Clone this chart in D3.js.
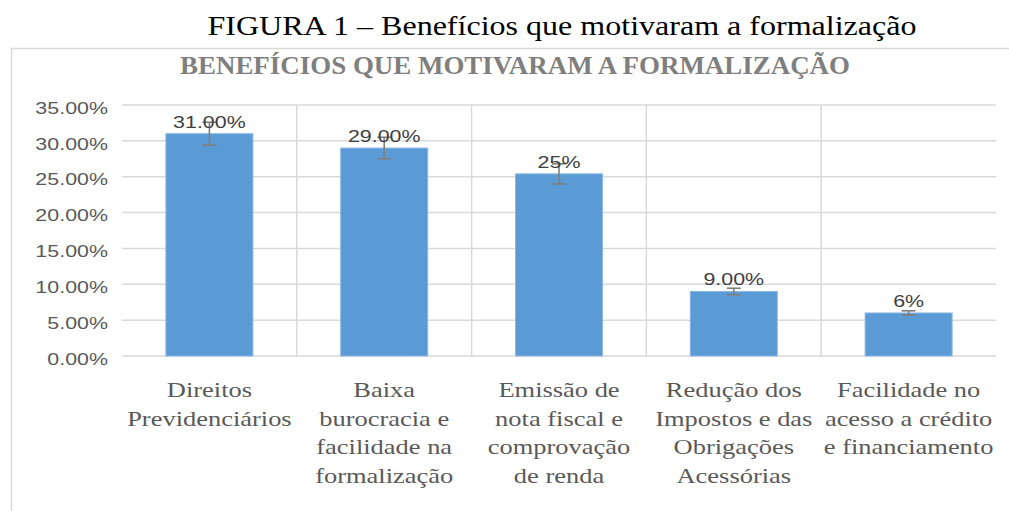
<!DOCTYPE html>
<html>
<head>
<meta charset="utf-8">
<script src="https://cdn.jsdelivr.net/npm/d3@7"></script>
<style>
  body { margin: 0; background: #fff; }
  svg { display: block; }
</style>
</head>
<body>
<div class="chart"></div>
<script>
// chart data
var categories = [
  ["Direitos", "Previdenciários"],
  ["Baixa", "burocracia e", "facilidade na", "formalização"],
  ["Emissão de", "nota fiscal e", "comprovação", "de renda"],
  ["Redução dos", "Impostos e das", "Obrigações", "Acessórias"],
  ["Facilidade no", "acesso a crédito", "e financiamento"]
];
var values = [31, 29, 25.4, 9, 6];
var valueLabels = ["31.00%", "29.00%", "25%", "9.00%", "6%"];
var errors = [1.6, 1.5, 1.4, 0.45, 0.3];
var yTicks = [0, 5, 10, 15, 20, 25, 30, 35];

var svgWidth = 1009, svgHeight = 511;
var margin = { top: 105, left: 122, right: 13, bottom: 155 };
var width = svgWidth - margin.left - margin.right;
var height = svgHeight - margin.top - margin.bottom;
var stretch = 1.26; // text in the picture is drawn wide

var svg = d3.select(".chart").append("svg")
  .attr("width", svgWidth)
  .attr("height", svgHeight);

// caption above the chart
svg.append("text")
  .attr("x", 562).attr("y", 35)
  .attr("text-anchor", "middle")
  .attr("font-family", "Liberation Serif")
  .attr("font-size", 27)
  .attr("textLength", 709)
  .attr("lengthAdjust", "spacingAndGlyphs")
  .attr("fill", "#000")
  .text("FIGURA 1 – Benefícios que motivaram a formalização");

// chart area border (left and top only visible)
svg.append("path")
  .attr("d", "M11.5,511 V48.5 H1009")
  .attr("fill", "none")
  .attr("stroke", "#d9d9d9")
  .attr("stroke-width", 1.5);

svg.append("text")
  .attr("x", 515).attr("y", 74)
  .attr("text-anchor", "middle")
  .attr("font-family", "Liberation Serif")
  .attr("font-weight", "bold")
  .attr("font-size", 26)
  .attr("textLength", 670)
  .attr("lengthAdjust", "spacingAndGlyphs")
  .attr("fill", "#7f7f7f")
  .text("BENEFÍCIOS QUE MOTIVARAM A FORMALIZAÇÃO");

var chartGroup = svg.append("g")
  .attr("transform", `translate(${margin.left}, ${margin.top})`);

var xScale = d3.scaleBand()
  .domain(d3.range(categories.length))
  .range([0, width])
  .paddingInner(0)
  .paddingOuter(0);

var yScale = d3.scaleLinear()
  .domain([0, 35])
  .range([height, 0]);

// horizontal gridlines
chartGroup.selectAll(".hgrid")
  .data(yTicks)
  .enter()
  .append("line")
  .attr("x1", 0).attr("x2", width)
  .attr("y1", d => yScale(d)).attr("y2", d => yScale(d))
  .attr("stroke", "#d9d9d9")
  .attr("stroke-width", 1.5);

// vertical gridlines between categories
chartGroup.selectAll(".vgrid")
  .data(d3.range(1, categories.length))
  .enter()
  .append("line")
  .attr("x1", d => xScale(d)).attr("x2", d => xScale(d))
  .attr("y1", 0).attr("y2", height)
  .attr("stroke", "#d9d9d9")
  .attr("stroke-width", 1.5);

// y axis
var yAxis = d3.axisLeft(yScale)
  .tickValues(yTicks)
  .tickSize(0)
  .tickFormat(d => d.toFixed(2) + "%");

var yAxisG = chartGroup.append("g").call(yAxis);
yAxisG.select(".domain").remove();
yAxisG.selectAll("text")
  .attr("x", 0)
  .attr("dy", "0.48em")
  .attr("transform", `translate(-14,0) scale(${stretch},1)`)
  .attr("font-family", "Liberation Sans")
  .attr("font-size", 17)
  .attr("fill", "#595959");

// bars
var barW = 87;
chartGroup.selectAll(".bar")
  .data(values)
  .enter()
  .append("rect")
  .attr("x", (d, i) => xScale(i) + xScale.bandwidth() / 2 - barW / 2)
  .attr("y", d => yScale(d))
  .attr("width", barW)
  .attr("height", d => height - yScale(d))
  .attr("fill", "#5b9bd5")
  .attr("stroke", "#8ab8e3")
  .attr("stroke-width", 1);

// error bars
var errG = chartGroup.selectAll(".err")
  .data(values)
  .enter()
  .append("g")
  .attr("stroke", "#7f7f7f")
  .attr("stroke-width", 1.6);

errG.append("line")
  .attr("x1", (d, i) => xScale(i) + xScale.bandwidth() / 2)
  .attr("x2", (d, i) => xScale(i) + xScale.bandwidth() / 2)
  .attr("y1", (d, i) => yScale(d + errors[i]))
  .attr("y2", (d, i) => yScale(d - errors[i]));

errG.append("line")
  .attr("x1", (d, i) => xScale(i) + xScale.bandwidth() / 2 - 7)
  .attr("x2", (d, i) => xScale(i) + xScale.bandwidth() / 2 + 7)
  .attr("y1", (d, i) => yScale(d - errors[i]))
  .attr("y2", (d, i) => yScale(d - errors[i]));

errG.append("line")
  .attr("x1", (d, i) => xScale(i) + xScale.bandwidth() / 2 - 7)
  .attr("x2", (d, i) => xScale(i) + xScale.bandwidth() / 2 + 7)
  .attr("y1", (d, i) => yScale(d + errors[i]))
  .attr("y2", (d, i) => yScale(d + errors[i]));

// data labels
chartGroup.selectAll(".vlabel")
  .data(values)
  .enter()
  .append("text")
  .attr("transform", (d, i) =>
    `translate(${xScale(i) + xScale.bandwidth() / 2}, ${yScale(d) - 6}) scale(${stretch},1)`)
  .attr("text-anchor", "middle")
  .attr("font-family", "Liberation Sans")
  .attr("font-size", 17)
  .attr("fill", "#404040")
  .text((d, i) => valueLabels[i]);

// category labels
var catG = chartGroup.selectAll(".cat")
  .data(categories)
  .enter()
  .append("text")
  .attr("transform", (d, i) =>
    `translate(${xScale(i) + xScale.bandwidth() / 2}, ${height + 41}) scale(${stretch},1)`)
  .attr("text-anchor", "middle")
  .attr("font-family", "Liberation Serif")
  .attr("font-size", 21)
  .attr("fill", "#595959");

catG.selectAll("tspan")
  .data(d => d)
  .enter()
  .append("tspan")
  .attr("x", 0)
  .attr("y", (d, j) => j * 28.7)
  .text(d => d);
</script>
</body>
</html>
